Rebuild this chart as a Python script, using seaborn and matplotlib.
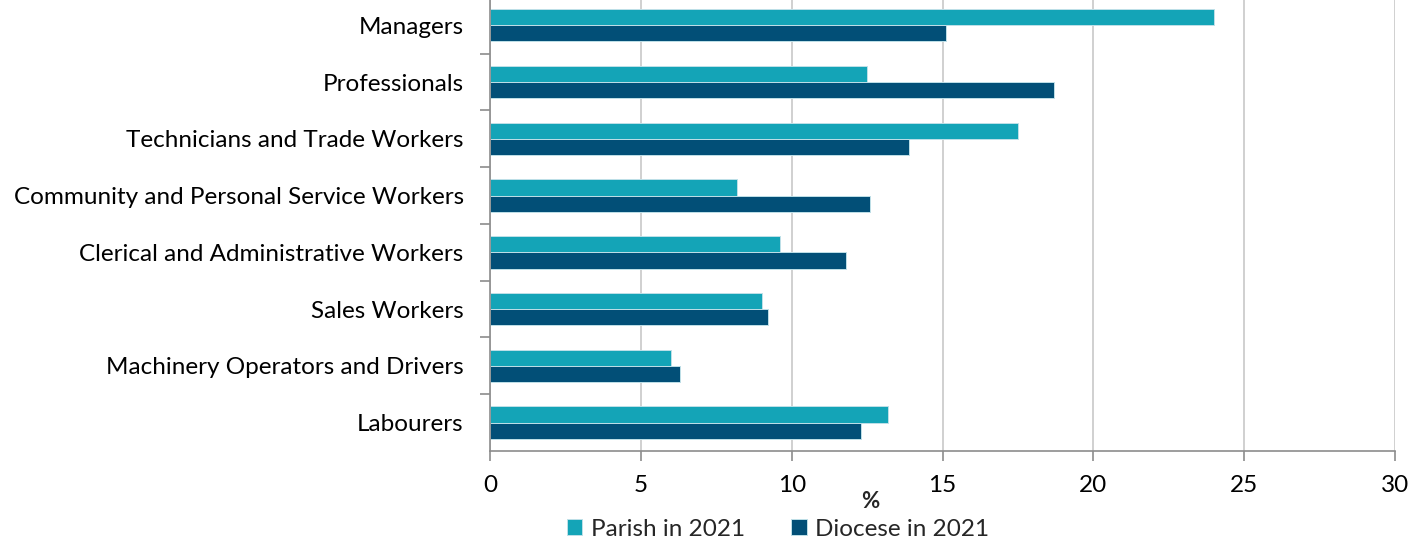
import pandas as pd
import matplotlib.pyplot as plt
import seaborn as sns
import numpy as np
from matplotlib.ticker import FixedLocator

# Occupation categories (top to bottom)
categories = [
    "Managers",
    "Professionals",
    "Technicians and Trade Workers",
    "Community and Personal Service Workers",
    "Clerical and Administrative Workers",
    "Sales Workers",
    "Machinery Operators and Drivers",
    "Labourers",
]

# Percentages
parish_2021 = [24.0, 12.5, 17.5, 8.2, 9.6, 9.0, 6.0, 13.2]
diocese_2021 = [15.1, 18.7, 13.9, 12.6, 11.8, 9.2, 6.3, 12.3]

series_names = ["Parish in 2021", "Diocese in 2021"]
x_ticks = [0, 5, 10, 15, 20, 25, 30]

# Build long-format table for seaborn
df = pd.DataFrame({
    "Occupation": categories * 2,
    "Percent": parish_2021 + diocese_2021,
    "Series": [series_names[0]] * len(categories) + [series_names[1]] * len(categories),
})

sns.set_theme(style="white")
plt.rcParams["font.family"] = ["Lato", "DejaVu Sans"]

fig = plt.figure(figsize=(14.25, 5.38), dpi=100)
ax = fig.add_axes([0.3439, 0.1617, 0.979 - 0.3439, 0.844])

sns.barplot(
    data=df, x="Percent", y="Occupation", hue="Series",
    order=categories, hue_order=series_names,
    palette=["#14A4B7", "#024F77"], saturation=1, orient="h",
    width=0.57, edgecolor="#bfe0e8", linewidth=0.7,
    legend=True, ax=ax,
)

# Axis limits and ticks
ax.set_xlim(0, 30)
ax.set_ylim(len(categories) - 0.5, -0.5)
ax.xaxis.set_major_locator(FixedLocator(x_ticks))
ax.set_xticklabels([str(t) for t in x_ticks])

# Vertical gridlines
ax.grid(axis="x", color="#D0D0D0", linewidth=1.4)
ax.grid(axis="y", visible=False)
ax.set_axisbelow(True)

# Spines
for side in ["top", "right"]:
    ax.spines[side].set_visible(False)
for side in ["left", "bottom"]:
    ax.spines[side].set_color("#8C8C8C")
    ax.spines[side].set_linewidth(1.2)

# Category separators on y axis as minor ticks
ax.yaxis.set_minor_locator(FixedLocator(np.arange(0.5, len(categories) - 0.5, 1)))
ax.tick_params(axis="y", which="major", length=0, pad=19, labelsize=17.5, labelcolor="black")
ax.tick_params(axis="y", which="minor", left=True, length=7, width=1.2, color="#8C8C8C")
ax.tick_params(axis="x", which="major", bottom=True, length=7, width=1.2, color="#8C8C8C",
               pad=10, labelsize=17.5, labelcolor="black")

ax.set_ylabel("")
ax.set_xlabel("%", fontsize=16, fontweight="bold", labelpad=0)
ax.xaxis.set_label_coords(0.42, -0.088)

# Legend below the chart
handles, labels = ax.get_legend_handles_labels()
ax.get_legend().remove()
fig.legend(handles, labels, loc="center", bbox_to_anchor=(0.546, 0.016), ncol=2,
           frameon=False, fontsize=17.5, handlelength=0.65, handleheight=0.65,
           handletextpad=0.35, columnspacing=1.9, borderaxespad=0)

fig.savefig("out.png", dpi=100)
